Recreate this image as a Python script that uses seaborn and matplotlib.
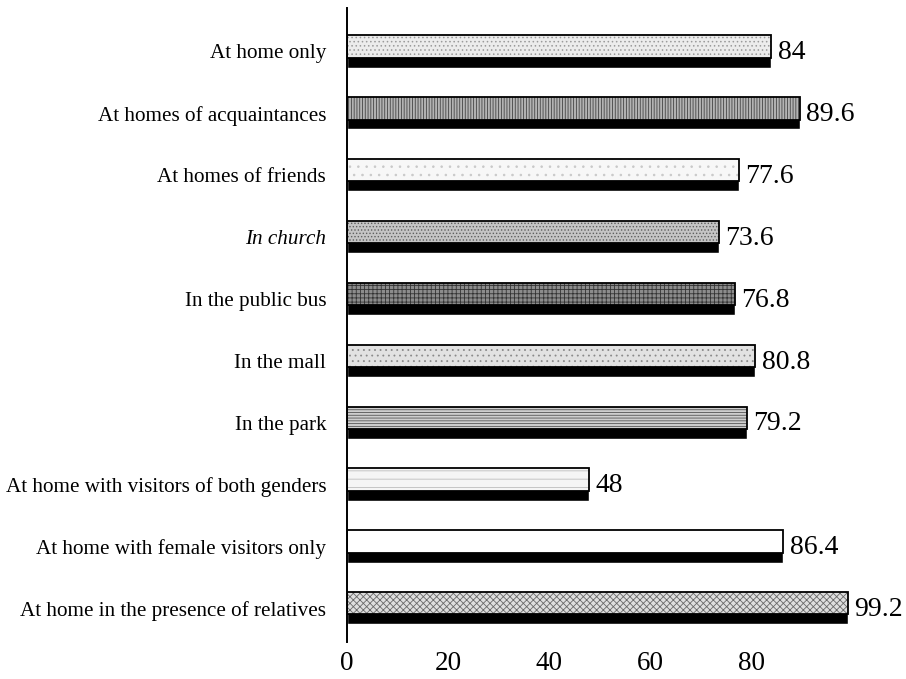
import matplotlib
matplotlib.use("Agg")
import matplotlib.pyplot as plt
import seaborn as sns
import pandas as pd

categories = [
    "At home only",
    "At homes of acquaintances",
    "At homes of friends",
    "In church",
    "In the public bus",
    "In the mall",
    "In the park",
    "At home with visitors of both genders",
    "At home with female visitors only",
    "At home in the presence of relatives",
]
values = [84, 89.6, 77.6, 73.6, 76.8, 80.8, 79.2, 48, 86.4, 99.2]
value_labels = ["84", "89.6", "77.6", "73.6", "76.8", "80.8", "79.2", "48", "86.4", "99.2"]
x_ticks = [0, 20, 40, 60, 80]

face_colors = ["#ececec", "#b4b4b4", "#f7f7f7", "#c4c4c4", "#8c8c8c",
               "#e2e2e2", "#cfcfcf", "#f5f5f5", "#ffffff", "#dedede"]
hatch_colors = ["#9a9a9a", "#444444", "#c8c8c8", "#5e5e5e", "#333333",
                "#8a8a8a", "#555555", "#bdbdbd", "#ffffff", "#6a6a6a"]
hatches = ["....", "||||||", "..", ".....", "++++", "...", "------", "--", "", "xxxxx"]

df = pd.DataFrame({"category": categories, "value": values})

sns.set_style("white")
plt.rcParams["font.family"] = ["Liberation Serif", "DejaVu Serif"]
plt.rcParams["hatch.linewidth"] = 0.6
plt.rcParams["text.color"] = "black"
plt.rcParams["xtick.color"] = "black"
plt.rcParams["ytick.color"] = "black"

fig = plt.figure(figsize=(9.06, 6.79), dpi=100)
ax = fig.add_axes([0.383, 0.054, 0.587, 0.934])

base_w = 0.52
face_w = 0.36
shift = (base_w - face_w) / 2

# black base (shadow)
sns.barplot(data=df, y="category", x="value", orient="h", order=categories,
            color="black", width=base_w, ax=ax, errorbar=None, saturation=1)
n0 = len(ax.patches)
# face with hatch
sns.barplot(data=df, y="category", x="value", orient="h", order=categories,
            color="white", width=face_w, ax=ax, errorbar=None, saturation=1)
faces = ax.patches[n0:]
for p, fc, hc, h in zip(faces, face_colors, hatch_colors, hatches):
    p.set_y(p.get_y() - shift)
    p.set_facecolor(fc)
    p.set_edgecolor(hc)
    p.set_linewidth(0)
    p.set_hatch(h)
n1 = len(ax.patches)
# outlines
sns.barplot(data=df, y="category", x="value", orient="h", order=categories,
            fill=False, edgecolor="black", linewidth=1.3, width=face_w, ax=ax,
            errorbar=None)
for p in ax.patches[n1:]:
    p.set_y(p.get_y() - shift)

for i, (v, lab) in enumerate(zip(values, value_labels)):
    ax.text(v + 1.3, i + 0.02, lab, va="center", ha="left", fontsize=20,
            color="black")

ax.set_xlim(0, 105.3)
ax.set_ylim(9.55, -0.70)
ax.set_xticks(x_ticks)
ax.set_xticklabels([str(t) for t in x_ticks], fontsize=19.5)
ax.set_ylabel("")
ax.set_xlabel("")
ax.tick_params(axis="y", labelsize=15.2, length=0, pad=15, labelcolor="black")
ax.tick_params(axis="x", length=0, pad=6.5, labelcolor="black")
for lbl in ax.get_yticklabels():
    if lbl.get_text() == "In church":
        lbl.set_style("italic")

for s in ["top", "right", "bottom"]:
    ax.spines[s].set_visible(False)
ax.spines["left"].set_linewidth(1.4)
ax.spines["left"].set_color("black")

fig.savefig("out.png", dpi=100)
